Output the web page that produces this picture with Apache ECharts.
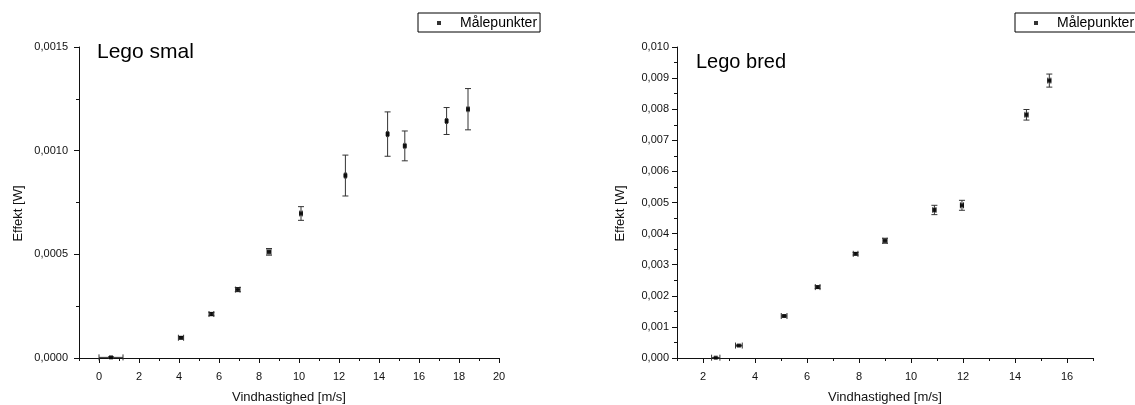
<!DOCTYPE html>
<html>
<head>
<meta charset="utf-8">
<script src="https://cdn.jsdelivr.net/npm/echarts@6/dist/echarts.min.js"></script>
<style>
  html, body { margin: 0; padding: 0; background: #fff; }
  #chart { width: 1135px; height: 405px; }
</style>
</head>
<body>
<div id="chart"></div>
<script>
// Lego smal
const smalX = [0.6, 4.1, 5.62, 6.94, 8.5, 10.1, 12.32, 14.43, 15.29, 17.38, 18.45];
const smalY = [0.000003, 0.0000976, 0.000212, 0.00033, 0.000512, 0.000697, 0.00088, 0.00108, 0.001023, 0.001143, 0.0012];
const smalXErr = [0.6, 0.13, 0.12, 0.11, 0.1, 0.06, 0.05, 0.05, 0.05, 0.05, 0.05];
const smalYErr = [0.000003, 0.000006, 0.000008, 0.00001, 0.000016, 0.000033, 0.0000986, 0.000107, 0.000072, 0.000065, 0.0000995];

// Lego bred
const bredX = [2.49, 3.38, 5.12, 6.41, 7.87, 9.0, 10.9, 11.96, 14.44, 15.32];
const bredY = [0.00001, 0.0004, 0.00135, 0.00228, 0.00335, 0.00377, 0.00476, 0.00491, 0.00782, 0.00892];
const bredXErr = [0.16, 0.13, 0.11, 0.09, 0.09, 0.08, 0.06, 0.06, 0.06, 0.06];
const bredYErr = [0.00001, 0.00002, 0.00003, 0.00004, 0.00004, 0.00008, 0.00015, 0.00016, 0.00017, 0.00021];

const smalMajorTicks = [0, 2, 4, 6, 8, 10, 12, 14, 16, 18, 20];
const smalMinorTicks = [-1, 1, 3, 5, 7, 9, 11, 13, 15, 17, 19];
const bredMajorTicks = [2, 4, 6, 8, 10, 12, 14, 16];
const bredMinorTicks = [1, 3, 5, 7, 9, 11, 13, 15, 17];

const FONT = 'Liberation Sans, Arial, sans-serif';
const INK = '#111';

const chart = echarts.init(document.getElementById('chart'));

function errorBars(params, api) {
  const x = api.value(0), y = api.value(1), ex = api.value(2), ey = api.value(3);
  const l = api.coord([x - ex, y]), r = api.coord([x + ex, y]);
  const t = api.coord([x, y + ey]), b = api.coord([x, y - ey]);
  const cap = 3;
  const style = { stroke: '#333', lineWidth: 1 };
  const line = (x1, y1, x2, y2) => ({ type: 'line', shape: { x1, y1, x2, y2 }, style });
  return {
    type: 'group',
    children: [
      line(l[0], l[1], r[0], r[1]),
      line(l[0], l[1] - cap, l[0], l[1] + cap),
      line(r[0], r[1] - cap, r[0], r[1] + cap),
      line(t[0], t[1], b[0], b[1]),
      line(t[0] - cap, t[1], t[0] + cap, t[1]),
      line(b[0] - cap, b[1], b[0] + cap, b[1])
    ]
  };
}

function xMain(grid, min, max, ticks) {
  return {
    type: 'value', gridIndex: grid, min, max, position: 'bottom',
    name: 'Vindhastighed [m/s]', nameLocation: 'middle', nameGap: 33,
    nameTextStyle: { fontFamily: FONT, fontSize: 13, color: INK },
    axisLine: { show: true, onZero: false, lineStyle: { color: INK, width: 1 } },
    axisTick: { show: true, customValues: ticks, length: 5, lineStyle: { color: INK } },
    axisLabel: { customValues: ticks, margin: 13, fontFamily: FONT, fontSize: 11, color: INK },
    splitLine: { show: false }
  };
}

function xMinor(grid, min, max, ticks) {
  return {
    type: 'value', gridIndex: grid, min, max, position: 'bottom',
    axisLine: { show: false, onZero: false },
    axisTick: { show: true, customValues: ticks, length: 3, lineStyle: { color: INK } },
    axisLabel: { show: false },
    splitLine: { show: false }
  };
}

function yAxis(grid, max, interval, digits, gap, margin) {
  return {
    type: 'value', gridIndex: grid, min: 0, max, interval,
    name: 'Effekt [W]', nameLocation: 'middle', nameGap: gap,
    nameTextStyle: { fontFamily: FONT, fontSize: 13, color: INK, padding: [0, 22, 0, 0] },
    axisLine: { show: true, onZero: false, lineStyle: { color: INK, width: 1 } },
    axisTick: { show: true, length: 5, lineStyle: { color: INK } },
    minorTick: { show: true, splitNumber: 2, length: 3, lineStyle: { color: INK } },
    axisLabel: {
      margin, fontFamily: FONT, fontSize: 11, color: INK,
      formatter: v => v.toFixed(digits).replace('.', ',')
    },
    splitLine: { show: false }
  };
}

function legend(left) {
  return {
    left, top: 13, orient: 'horizontal',
    data: [{ name: 'Målepunkter', icon: 'rect' }],
    itemWidth: 4, itemHeight: 4,
    padding: [3, 3, 2, 19],
    borderColor: '#000', borderWidth: 1,
    selectedMode: false,
    textStyle: { fontFamily: FONT, fontSize: 14, color: '#000', padding: [0, 0, 0, 14] }
  };
}

const option = {
  animation: false,
  backgroundColor: '#fff',
  title: [
    { text: 'Lego smal', left: 97, top: 42, padding: 0, textStyle: { fontFamily: FONT, fontSize: 21, fontWeight: 'normal', color: '#000' } },
    { text: 'Lego bred', left: 696, top: 52, padding: 0, textStyle: { fontFamily: FONT, fontSize: 20, fontWeight: 'normal', color: '#000' } }
  ],
  legend: [legend(418), legend(1015)],
  grid: [
    { left: 79, top: 47, width: 420, height: 311, outerBoundsMode: 'none' },
    { left: 677, top: 47, width: 416, height: 311, outerBoundsMode: 'none' }
  ],
  xAxis: [
    xMain(0, -1, 20, smalMajorTicks),
    xMinor(0, -1, 20, smalMinorTicks),
    xMain(1, 1, 17, bredMajorTicks),
    xMinor(1, 1, 17, bredMinorTicks)
  ],
  yAxis: [
    yAxis(0, 0.0015, 0.0005, 4, 54, 11),
    yAxis(1, 0.01, 0.001, 3, 50, 8)
  ],
  series: [
    {
      name: 'err-smal', type: 'custom', xAxisIndex: 0, yAxisIndex: 0,
      renderItem: errorBars, encode: { x: 0, y: 1 }, silent: true,
      data: smalX.map((x, i) => [x, smalY[i], smalXErr[i], smalYErr[i]])
    },
    {
      name: 'Målepunkter', type: 'scatter', xAxisIndex: 0, yAxisIndex: 0,
      symbol: 'rect', symbolSize: 4, itemStyle: { color: '#000' },
      data: smalX.map((x, i) => [x, smalY[i]])
    },
    {
      name: 'err-bred', type: 'custom', xAxisIndex: 2, yAxisIndex: 1,
      renderItem: errorBars, encode: { x: 0, y: 1 }, silent: true,
      data: bredX.map((x, i) => [x, bredY[i], bredXErr[i], bredYErr[i]])
    },
    {
      name: 'Målepunkter', type: 'scatter', xAxisIndex: 2, yAxisIndex: 1,
      symbol: 'rect', symbolSize: 4, itemStyle: { color: '#000' },
      data: bredX.map((x, i) => [x, bredY[i]])
    }
  ]
};

chart.setOption(option);
</script>
</body>
</html>
